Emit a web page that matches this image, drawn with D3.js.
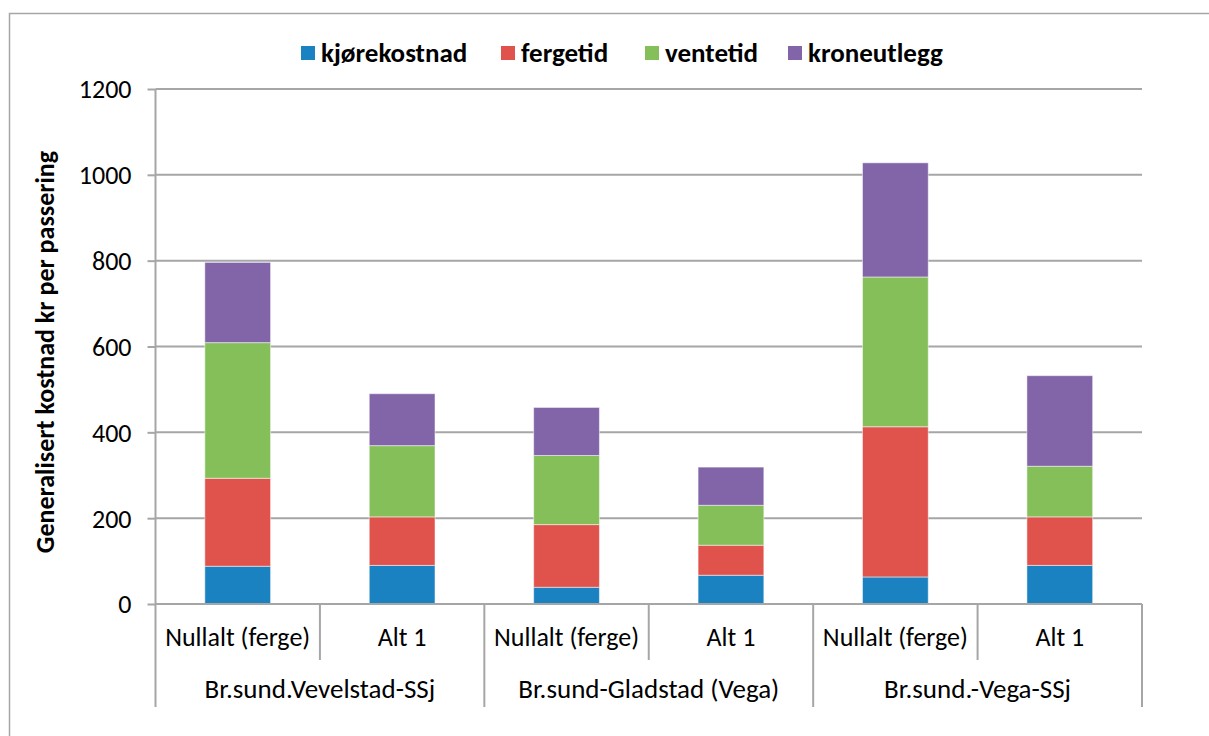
<!DOCTYPE html>
<html lang="no">
<head>
  <meta charset="UTF-8">
  <title>Generalisert kostnad</title>
  <script src="https://d3js.org/d3.v7.min.js"></script>
  <style>
    body { margin: 0; background: #fff; }
    text { font-family: Carlito, "Liberation Sans Narrow", "Open Sans", sans-serif; fill: #000; }
  </style>
</head>
<body>
  <div class="chart"></div>
  <script>
    const groups = ['Br.sund.Vevelstad-SSj', 'Br.sund-Gladstad (Vega)', 'Br.sund.-Vega-SSj'];
    const alts = ['Nullalt (ferge)', 'Alt 1'];
    const seriesNames = ['kjørekostnad', 'fergetid', 'ventetid', 'kroneutlegg'];
    const kjorekostnad = [88, 90, 39, 67, 63, 90];
    const fergetid = [205, 113, 146, 70, 350, 113];
    const ventetid = [316, 166, 161, 93, 349, 118];
    const kroneutlegg = [187, 121, 112, 89, 266, 211];
    const yTicks = [0, 200, 400, 600, 800, 1000, 1200];
    const colors = ['#1b82c2', '#e0524c', '#84bf5a', '#8264a8'];

    const width = 1209, height = 736;
    const plotLeft = 155.5, plotRight = 1142, plotTop = 89, plotBottom = 604;

    const svg = d3.select('.chart').append('svg').attr('width', width).attr('height', height);

    // outer frame
    svg.append('rect')
      .attr('x', 9.5).attr('y', 13.5).attr('width', 1210).attr('height', 740)
      .attr('fill', 'none').attr('stroke', '#a6a6a6').attr('stroke-width', 1.5);

    // rows for the stack
    const rows = [];
    groups.forEach((g, gi) => alts.forEach((a, ai) => {
      const i = gi * 2 + ai;
      rows.push({ key: g + '|' + a, group: g, alt: a,
        'kjørekostnad': kjorekostnad[i], 'fergetid': fergetid[i],
        'ventetid': ventetid[i], 'kroneutlegg': kroneutlegg[i] });
    }));

    const x = d3.scaleBand().domain(rows.map(d => d.key)).range([plotLeft, plotRight])
      .paddingInner(0.6).paddingOuter(0.3);
    const y = d3.scaleLinear().domain([0, 1200]).range([plotBottom, plotTop]);

    // gridlines
    svg.append('g').selectAll('line').data(yTicks.slice(1)).join('line')
      .attr('x1', plotLeft).attr('x2', plotRight)
      .attr('y1', d => y(d)).attr('y2', d => y(d))
      .attr('stroke', '#a6a6a6').attr('stroke-width', 2);

    // y axis
    const yAxis = svg.append('g').attr('transform', `translate(${plotLeft},0)`)
      .call(d3.axisLeft(y).tickValues(yTicks).tickFormat(d3.format('d')).tickSize(8).tickPadding(16));
    yAxis.select('.domain').remove();
    yAxis.selectAll('.tick line').attr('stroke', '#a6a6a6').attr('stroke-width', 2);
    yAxis.selectAll('.tick text').style('font-size', '26px').attr('dy', '0.34em');
    svg.append('line').attr('x1', plotLeft).attr('x2', plotLeft).attr('y1', plotTop).attr('y2', 707)
      .attr('stroke', '#a6a6a6').attr('stroke-width', 2);

    // stacked bars
    const stack = d3.stack().keys(seriesNames)(rows);
    svg.append('g').selectAll('g').data(stack).join('g')
      .attr('fill', (d, i) => colors[i])
      .selectAll('rect').data(d => d).join('rect')
      .attr('x', d => x(d.data.key))
      .attr('width', x.bandwidth())
      .attr('y', d => y(d[1]))
      .attr('height', d => y(d[0]) - y(d[1]))
      .attr('stroke', '#ffffff').attr('stroke-opacity', 0.5).attr('stroke-width', 1);

    // x axis baseline
    svg.append('line').attr('x1', plotLeft).attr('x2', plotRight).attr('y1', plotBottom).attr('y2', plotBottom)
      .attr('stroke', '#a6a6a6').attr('stroke-width', 2);

    // category separators
    const step = x.step();
    const seps = d3.range(1, rows.length + 1).map(i => plotLeft + i * step);
    svg.append('g').selectAll('line').data(seps).join('line')
      .attr('x1', d => d).attr('x2', d => d)
      .attr('y1', plotBottom).attr('y2', (d, i) => (i % 2 === 1) ? 707 : 660)
      .attr('stroke', '#a6a6a6').attr('stroke-width', 2);

    // alt labels
    svg.append('g').selectAll('text').data(rows).join('text')
      .attr('x', d => x(d.key) + x.bandwidth() / 2)
      .attr('y', 646)
      .attr('text-anchor', 'middle')
      .style('font-size', '26px')
      .text(d => d.alt);

    // group labels
    svg.append('g').selectAll('text').data(groups).join('text')
      .attr('x', (d, i) => plotLeft + step * (2 * i + 1))
      .attr('y', 698)
      .attr('text-anchor', 'middle')
      .style('font-size', '27px')
      .text(d => d);

    // y title
    svg.append('text')
      .attr('transform', `translate(54,352) rotate(-90)`)
      .attr('text-anchor', 'middle')
      .style('font-size', '26px').style('font-weight', 'bold')
      .text('Generalisert kostnad kr per passering');

    // legend
    const legendX = [301, 501, 645, 788];
    const legend = svg.append('g').selectAll('g').data(seriesNames).join('g')
      .attr('transform', (d, i) => `translate(${legendX[i]},46)`);
    legend.append('rect').attr('width', 14).attr('height', 14).attr('fill', (d, i) => colors[i]);
    legend.append('text').attr('x', 20).attr('y', 16)
      .style('font-size', '27px').style('font-weight', 'bold')
      .text(d => d);
  </script>
</body>
</html>
